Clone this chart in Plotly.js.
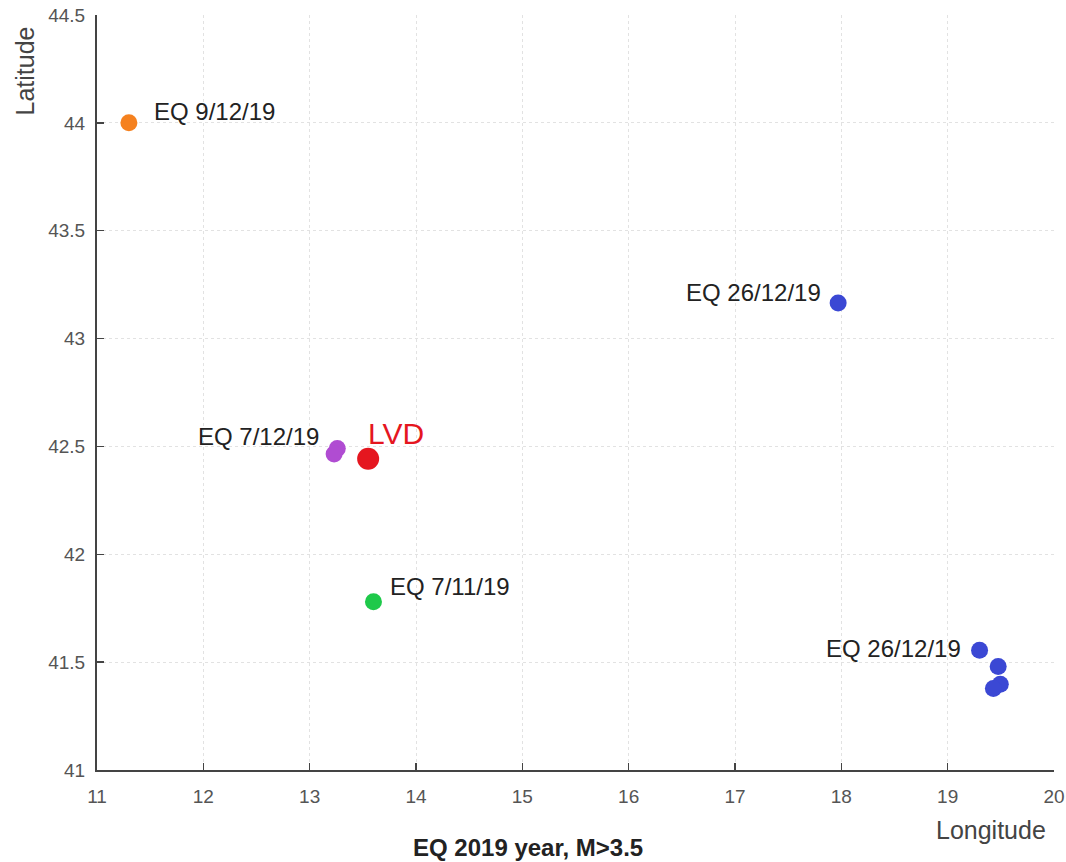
<!DOCTYPE html>
<html>
<head>
<meta charset="utf-8">
<script src="https://cdn.plot.ly/plotly-3.0.1.min.js"></script>
<style>html,body{margin:0;padding:0;background:#fff;}#chart{width:1066px;height:862px;}</style>
</head>
<body>
<div id="chart"></div>
<script>
// Earthquakes 2019, M>3.5 (longitude / latitude)
const lonDec9 = [11.30];
const latDec9 = [44.00];
const lonDec26a = [17.97];
const latDec26a = [43.165];
const lonDec7 = [13.26, 13.23];
const latDec7 = [42.49, 42.465];
const lonLVD = [13.55];
const latLVD = [42.443];
const lonNov7 = [13.60];
const latNov7 = [41.78];
const lonDec26b = [19.30, 19.475, 19.495, 19.43];
const latDec26b = [41.555, 41.48, 41.398, 41.378];

const xTicks = [11, 12, 13, 14, 15, 16, 17, 18, 19, 20];
const yTicks = [41, 41.5, 42, 42.5, 43, 43.5, 44, 44.5];

const FAM = 'Liberation Sans, Arial, sans-serif';
const labelFont = {family: FAM, size: 24, color: '#222'};

function pts(x, y, color, size) {
  return {type: 'scatter', mode: 'markers', x: x, y: y,
    marker: {color: color, size: size, line: {width: 0}}, hoverinfo: 'x+y', showlegend: false};
}

const data = [
  pts(lonDec9, latDec9, '#f5811f', 17),
  pts(lonDec26a, latDec26a, '#3b48d4', 17),
  pts(lonDec7, latDec7, '#b04cd2', 17),
  pts(lonLVD, latLVD, '#e5161f', 22),
  pts(lonNov7, latNov7, '#1ec94a', 17),
  pts(lonDec26b, latDec26b, '#3b48d4', 17)
];

const annotations = [
  {x: lonDec9[0], y: latDec9[0], text: 'EQ 9/12/19', xanchor: 'left', yanchor: 'middle', xshift: 23, yshift: 11, font: labelFont},
  {x: lonDec26a[0], y: latDec26a[0], text: 'EQ 26/12/19', xanchor: 'right', yanchor: 'middle', xshift: -15, yshift: 10, font: labelFont},
  {x: lonDec7[0], y: latDec7[0], text: 'EQ 7/12/19', xanchor: 'right', yanchor: 'middle', xshift: -16, yshift: 12, font: labelFont},
  {x: lonLVD[0], y: latLVD[0], text: 'LVD', xanchor: 'left', yanchor: 'middle', xshift: -2, yshift: 25,
   font: {family: FAM, size: 30, color: '#e5161f'}},
  {x: lonNov7[0], y: latNov7[0], text: 'EQ 7/11/19', xanchor: 'left', yanchor: 'middle', xshift: 15, yshift: 15, font: labelFont},
  {x: lonDec26b[0], y: latDec26b[0], text: 'EQ 26/12/19', xanchor: 'right', yanchor: 'middle', xshift: -17, yshift: 2, font: labelFont},
  {xref: 'paper', yref: 'paper', x: 0, y: 1, text: 'Latitude', textangle: -90, xanchor: 'center', yanchor: 'top',
   xshift: -73, yshift: -10, font: {family: FAM, size: 25, color: '#444'}},
  {xref: 'paper', yref: 'paper', x: 1, y: 0, text: 'Longitude', xanchor: 'right', yanchor: 'top',
   xshift: -6, yshift: -44, font: {family: FAM, size: 25, color: '#444'}},
  {xref: 'paper', yref: 'paper', x: 0.45, y: 0, text: '<b>EQ 2019 year, M>3.5</b>', xanchor: 'center', yanchor: 'top',
   yshift: -62, font: {family: FAM, size: 24, color: '#222'}}
].map(a => Object.assign({showarrow: false}, a));

const axisCommon = {
  showline: true, linecolor: '#444', linewidth: 2, mirror: false,
  ticks: 'inside', ticklen: 7, tickcolor: '#444', tickwidth: 1.5,
  showgrid: true, gridcolor: '#e2e2e2', griddash: 'dot', gridwidth: 1,
  zeroline: false, ticklabeloverflow: 'allow',
  tickfont: {family: FAM, size: 19, color: '#555'}
};

const layout = {
  width: 1066, height: 862,
  margin: {l: 97, r: 12, t: 15, b: 92},
  paper_bgcolor: '#fff', plot_bgcolor: '#fff',
  xaxis: Object.assign({}, axisCommon, {range: [11, 20], tickvals: xTicks, ticktext: xTicks.map(String), ticklabelstandoff: 8}),
  yaxis: Object.assign({}, axisCommon, {range: [41, 44.5], tickvals: yTicks, ticktext: yTicks.map(String), ticklabelstandoff: 6}),
  annotations: annotations,
  showlegend: false
};

Plotly.newPlot('chart', data, layout, {displayModeBar: false, staticPlot: true});
</script>
</body>
</html>
